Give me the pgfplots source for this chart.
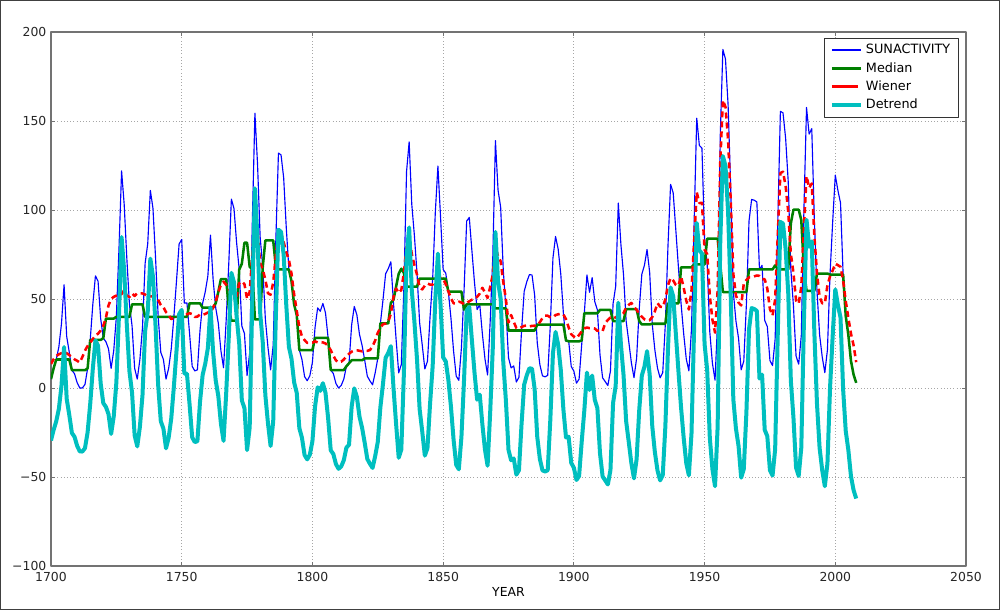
\documentclass[border=0pt]{standalone}
\usepackage{fontspec}
\setmainfont{DejaVu Sans}
\usepackage{pgfplots}
\usepackage{pgfplotstable}
\pgfplotsset{compat=1.18}

\definecolor{mplblue}{rgb}{0,0,1}
\definecolor{mplgreen}{rgb}{0,0.5,0}
\definecolor{mplred}{rgb}{1,0,0}
\definecolor{mplcyan}{rgb}{0,0.75,0.75}
\definecolor{framegray}{gray}{0.45}

% yearly sunspot numbers, 11-point median, 11-point Wiener, linear detrend
\pgfplotstableread{
year sun med wie det
1700 5 5 13.5 -29.5
1701 11 11 16.2 -23.6
1702 16 16 18.0 -18.7
1703 23 16 18.9 -11.8
1704 36 16 19.6 1.1
1705 58 16 19.9 23.0
1706 29 16 19.5 -6.1
1707 20 16 18.5 -15.2
1708 10 10 17.2 -25.3
1709 8 10 16.1 -27.4
1710 3 10 15.3 -32.5
1711 0 10 14.3 -35.6
1712 0 10 17.4 -35.7
1713 2 10 21.0 -33.8
1714 11 11 23.6 -24.9
1715 27 27 25.5 -9.0
1716 47 27 27.5 10.9
1717 63 27 29.5 26.8
1718 60 27 30.5 23.7
1719 39 27 32.3 2.6
1720 28 28 34.9 -8.5
1721 26 39 39.5 -10.6
1722 22 39 46.4 -14.7
1723 11 39 50.0 -25.8
1724 21 39 51.2 -15.9
1725 40 40 51.9 3.0
1726 78 40 52.5 40.9
1727 122 40 52.7 84.8
1728 103 40 55.0 65.7
1729 73 40 51.9 35.6
1730 47 40 51.1 9.5
1731 35 47 53.1 -2.6
1732 11 47 51.7 -26.7
1733 5 47 53.3 -32.8
1734 16 47 53.1 -21.9
1735 34 47 53.1 -4.0
1736 70 40 52.5 31.9
1737 81 40 51.4 42.8
1738 111 40 51.5 72.7
1739 101 40 51.5 62.6
1740 73 40 51.4 34.5
1741 40 40 49.5 1.4
1742 20 40 46.6 -18.7
1743 16 40 45.4 -22.8
1744 5 40 42.6 -33.9
1745 11 40 41.0 -28.0
1746 22 40 38.7 -17.1
1747 40 40 39.4 0.8
1748 60 40 40.4 20.7
1749 80.9 40 40.1 41.5
1750 83.4 40 40.5 43.9
1751 47.7 40 40.4 8.1
1752 47.8 40 41.4 8.1
1753 30.7 47.6 42.0 -9.1
1754 12.2 47.6 41.5 -27.7
1755 9.6 47.6 39.9 -30.4
1756 10.2 47.6 40.1 -29.9
1757 32.4 47.6 41.3 -7.8
1758 47.6 45.1 41.1 7.3
1759 54.0 45.1 41.6 13.6
1760 62.9 45.1 42.4 22.4
1761 85.9 45.1 42.5 45.3
1762 61.2 45.1 45.1 20.5
1763 45.1 47.6 48.5 4.3
1764 36.4 54.0 53.8 -4.5
1765 20.9 61.2 58.0 -20.1
1766 11.4 61.2 59.7 -29.7
1767 37.8 61.2 58.0 -3.4
1768 69.8 45.1 55.6 28.5
1769 106.1 37.8 54.2 64.7
1770 100.8 37.8 51.6 59.4
1771 81.6 37.8 51.5 40.1
1772 66.5 66.5 58.9 24.9
1773 34.8 69.8 59.9 -7.0
1774 30.6 81.6 58.3 -11.3
1775 7.0 81.6 50.1 -34.9
1776 19.8 68.1 54.0 -22.2
1777 92.5 66.5 74.7 50.4
1778 154.4 38.5 97.4 112.2
1779 125.9 38.5 88.2 83.6
1780 84.8 38.5 70.3 42.4
1781 68.1 68.1 66.7 25.6
1782 38.5 82.9 60.8 -4.1
1783 22.8 82.9 53.2 -19.9
1784 10.2 82.9 52.4 -32.6
1785 24.1 82.9 59.2 -18.8
1786 82.9 68.1 74.5 39.9
1787 132.0 66.6 87.8 88.9
1788 130.9 66.6 86.9 87.7
1789 118.1 66.6 82.0 74.8
1790 89.9 66.6 76.2 46.5
1791 66.6 66.6 72.0 23.1
1792 60.0 60.0 64.2 16.4
1793 46.9 46.9 52.6 3.2
1794 41.0 41.0 43.4 -2.8
1795 21.3 21.3 34.0 -22.6
1796 16.0 21.3 28.9 -28.0
1797 6.4 21.3 26.9 -37.7
1798 4.1 21.3 25.4 -40.1
1799 6.8 21.3 25.4 -37.5
1800 14.5 21.3 25.5 -29.9
1801 34.0 28.1 26.2 -10.5
1802 45.0 28.1 25.6 0.4
1803 43.1 28.1 25.8 -1.6
1804 47.5 28.1 25.6 2.7
1805 42.2 28.1 25.0 -2.7
1806 28.1 28.1 23.8 -16.9
1807 10.1 10.1 21.2 -35.0
1808 8.1 10.1 18.2 -37.1
1809 2.5 10.1 15.5 -42.8
1810 0.0 10.1 14.4 -45.4
1811 1.4 10.1 14.8 -44.1
1812 5.0 10.1 16.0 -40.6
1813 12.2 12.2 17.8 -33.5
1814 13.9 13.9 19.2 -31.9
1815 35.4 15.6 20.4 -10.5
1816 45.8 15.6 21.0 -0.2
1817 41.1 15.6 21.2 -5.0
1818 30.1 15.6 20.9 -16.1
1819 23.9 15.6 20.6 -22.4
1820 15.6 16.6 20.9 -30.8
1821 6.6 16.6 20.9 -39.9
1822 4.0 16.6 21.3 -42.6
1823 1.8 16.6 23.4 -44.9
1824 8.5 16.6 26.7 -38.3
1825 16.6 16.6 31.0 -30.3
1826 36.3 36.3 33.9 -10.7
1827 49.6 36.3 35.8 2.5
1828 64.2 36.3 36.2 17.0
1829 67.0 36.3 37.3 19.7
1830 70.9 47.8 41.7 23.5
1831 47.8 49.6 51.2 0.3
1832 27.5 56.9 55.9 -20.1
1833 8.5 64.2 53.4 -39.2
1834 13.2 67.0 55.1 -34.6
1835 56.9 64.6 64.8 9.0
1836 121.5 56.9 78.9 73.5
1837 138.3 56.9 85.2 90.2
1838 103.2 56.9 75.4 55.0
1839 85.7 56.9 69.1 37.4
1840 64.6 56.9 63.7 16.2
1841 36.7 61.5 56.6 -11.8
1842 24.2 61.5 55.4 -24.4
1843 10.7 61.5 57.5 -38.0
1844 15.0 61.5 58.7 -33.8
1845 40.1 61.5 58.1 -8.8
1846 61.5 61.5 58.1 12.5
1847 98.5 61.5 59.7 49.4
1848 124.7 61.5 61.0 75.5
1849 96.3 61.5 61.9 47.0
1850 66.6 61.5 61.2 17.2
1851 64.5 61.5 58.3 15.0
1852 54.1 54.1 54.3 4.5
1853 39.0 54.1 50.4 -10.7
1854 20.6 54.1 47.6 -29.2
1855 6.7 54.1 47.5 -43.2
1856 4.3 54.1 48.5 -45.7
1857 22.7 54.1 48.0 -27.4
1858 54.8 44.0 47.1 4.7
1859 93.8 47.0 47.8 43.6
1860 95.8 47.0 48.7 45.5
1861 77.2 47.0 49.6 26.8
1862 59.1 47.0 49.9 8.6
1863 44.0 47.0 51.2 -6.6
1864 47.0 47.0 53.0 -3.7
1865 30.5 47.0 56.3 -20.3
1866 16.3 47.0 53.6 -34.6
1867 7.3 47.0 50.6 -43.7
1868 37.6 47.0 56.8 -13.5
1869 74.0 47.0 63.8 22.8
1870 139.0 44.7 79.7 87.7
1871 111.2 44.7 73.9 59.8
1872 101.6 44.7 71.2 50.1
1873 66.2 44.7 59.6 14.6
1874 44.7 44.7 49.9 -7.0
1875 17.0 32.3 36.8 -34.8
1876 11.3 32.3 41.0 -40.6
1877 12.4 32.3 37.2 -39.6
1878 3.4 32.3 33.7 -48.7
1879 6.0 32.3 33.5 -46.2
1880 32.3 32.3 34.2 -20.0
1881 54.3 32.3 34.9 1.9
1882 59.7 32.3 35.1 7.2
1883 63.7 32.3 34.6 11.1
1884 63.5 32.3 34.9 10.8
1885 52.2 32.3 35.0 -0.6
1886 25.4 35.6 35.2 -27.5
1887 13.1 35.6 37.0 -39.9
1888 6.8 35.6 39.3 -46.3
1889 6.3 35.6 40.6 -46.9
1890 7.1 35.6 40.6 -46.2
1891 35.6 35.6 39.7 -17.8
1892 73.0 35.6 39.7 19.5
1893 85.1 35.6 41.0 31.5
1894 78.0 35.6 41.4 24.3
1895 64.0 35.6 41.7 10.2
1896 41.8 35.6 41.3 -12.1
1897 26.2 26.7 38.6 -27.8
1898 26.7 26.2 34.1 -27.4
1899 12.1 26.2 30.2 -42.1
1900 9.5 26.2 28.9 -44.8
1901 2.7 26.2 28.0 -51.7
1902 5.0 26.2 29.8 -49.5
1903 24.4 26.7 31.8 -30.2
1904 42.0 42.0 33.4 -12.7
1905 63.5 42.0 34.0 8.7
1906 53.8 42.0 33.6 -1.1
1907 62.0 42.0 33.7 7.0
1908 48.5 42.0 33.4 -6.6
1909 43.9 42.0 32.1 -11.3
1910 18.6 43.9 32.5 -36.7
1911 5.7 43.9 32.0 -49.7
1912 3.6 43.9 36.5 -51.9
1913 1.4 43.9 38.2 -54.2
1914 9.6 43.9 39.6 -46.1
1915 47.4 37.6 39.0 -8.4
1916 57.1 37.6 39.7 1.2
1917 103.9 37.6 40.5 47.9
1918 80.6 37.6 40.7 24.5
1919 63.6 37.6 42.1 7.4
1920 37.6 44.3 45.2 -18.7
1921 26.1 44.3 46.7 -30.3
1922 14.2 44.3 47.8 -42.3
1923 5.8 44.3 45.4 -50.8
1924 16.7 44.3 44.0 -40.0
1925 44.3 37.6 41.5 -12.5
1926 63.9 35.7 40.0 7.0
1927 69.0 35.7 38.6 12.0
1928 77.8 35.7 37.8 20.7
1929 64.9 35.7 38.1 7.7
1930 35.7 36.1 39.9 -21.6
1931 21.2 36.1 43.1 -36.2
1932 11.1 36.1 47.7 -46.4
1933 5.7 36.1 45.7 -51.9
1934 8.7 36.1 45.4 -49.0
1935 36.1 36.1 49.9 -21.7
1936 79.7 47.5 57.6 21.9
1937 114.4 47.5 61.8 56.5
1938 109.6 47.5 60.4 51.6
1939 88.8 47.5 57.9 30.7
1940 67.8 47.5 57.6 9.6
1941 47.5 67.8 62.7 -10.9
1942 30.6 67.8 56.4 -27.9
1943 16.3 67.8 49.1 -42.3
1944 9.6 67.8 44.1 -49.1
1945 33.2 67.8 54.8 -25.5
1946 92.6 69.4 82.1 33.8
1947 151.6 69.4 110.0 92.7
1948 136.3 69.4 103.9 77.3
1949 134.7 69.4 104.0 75.6
1950 83.9 69.4 77.7 24.7
1951 69.4 83.9 75.2 10.1
1952 31.5 83.9 51.9 -27.9
1953 13.9 83.9 38.4 -45.6
1954 4.4 83.9 31.1 -55.2
1955 38.0 83.9 54.7 -21.7
1956 141.7 69.4 126.9 81.9
1957 190.2 53.9 161.7 130.3
1958 184.8 53.9 157.9 124.8
1959 159.0 53.9 139.4 98.9
1960 112.3 53.9 105.5 52.1
1961 53.9 53.9 64.0 -6.4
1962 37.6 53.9 52.0 -22.8
1963 27.9 53.9 47.9 -32.6
1964 10.2 53.9 46.4 -50.4
1965 15.1 53.9 58.6 -45.6
1966 47.0 53.9 60.7 -13.8
1967 93.8 66.6 62.1 32.9
1968 105.9 66.6 62.1 44.9
1969 105.5 66.6 62.7 44.4
1970 104.5 66.6 63.2 43.3
1971 66.6 66.6 63.0 5.3
1972 68.9 66.6 61.2 7.5
1973 38.0 66.6 61.1 -23.5
1974 34.5 66.6 55.8 -27.1
1975 15.5 66.6 44.3 -46.2
1976 12.6 66.6 40.7 -49.2
1977 27.5 68.9 49.7 -34.4
1978 92.5 66.6 85.9 30.5
1979 155.4 66.6 120.8 93.3
1980 154.6 66.6 121.5 92.4
1981 140.4 66.6 113.5 78.1
1982 115.9 66.6 99.0 53.5
1983 66.6 92.5 75.4 4.1
1984 45.9 100.2 64.6 -16.7
1985 17.9 100.2 49.1 -44.8
1986 13.4 100.2 47.4 -49.4
1987 29.4 94.3 56.8 -33.5
1988 100.2 66.6 89.5 37.2
1989 157.6 54.6 119.1 94.5
1990 142.6 54.6 112.4 79.4
1991 145.7 54.6 114.9 82.4
1992 94.3 54.6 85.1 30.9
1993 54.6 64.3 64.5 -8.9
1994 29.9 64.3 51.0 -33.7
1995 17.5 64.3 47.6 -46.2
1996 8.6 64.3 47.5 -55.2
1997 21.5 64.3 57.7 -42.4
1998 64.3 63.7 62.8 0.3
1999 93.3 63.7 66.0 29.2
2000 119.6 63.7 69.9 55.4
2001 111.0 63.7 69.0 46.7
2002 104.0 63.7 68.1 39.6
2003 63.7 63.7 60.3 -0.8
2004 40.4 40.4 48.8 -24.2
2005 29.8 29.8 39.4 -34.9
2006 15.2 15.2 30.5 -49.6
2007 7.5 7.5 24.0 -57.4
2008 2.9 2.9 14.5 -62.1
}\sunspots

\begin{document}
\begin{tikzpicture}
\begin{axis}[
    scale only axis,
    width=686.25pt, height=400.5pt,
    xmin=1700, xmax=2050, ymin=-100, ymax=200,
    xtick={1700,1750,1800,1850,1900,1950,2000,2050},
    xticklabels={1700,1750,1800,1850,1900,1950,2000,2050},
    ytick={-100,-50,0,50,100,150,200},
    yticklabels={−100,−50,0,50,100,150,200},
    tick label style={font=\fontsize{9.3}{11}\selectfont, black!85},
    xticklabel style={yshift=-1pt},
    tick align=inside,
    major tick length=3pt,
    tick style={framegray, line width=0.6pt},
    axis line style={framegray, line width=0.9pt},
    grid=major,
    major grid style={gray!70, dotted, line width=0.6pt},
    xlabel={YEAR},
    xlabel style={at={(axis description cs:0.5,0)}, anchor=center, yshift=-19.5pt,
                  font=\fontsize{9.3}{11}\selectfont},
    legend style={at={(0.992,0.989)}, anchor=north east, draw=black!80,
                  line width=0.6pt, fill=white,
                  font=\fontsize{9.6}{11.5}\selectfont,
                  inner xsep=4pt, inner ysep=2.5pt, row sep=1pt},
    legend cell align=left,
    legend image code/.code={\path (0pt,0pt) -- (22pt,0pt);
                             \draw[#1] (3pt,0pt) -- (17pt,0pt);},
    line join=round,
]
\addplot[mplblue, line width=0.85pt] table[x=year, y=sun] {\sunspots};
\addplot[mplgreen, line width=1.9pt] table[x=year, y=med] {\sunspots};
\addplot[mplred, line width=1.9pt, dash pattern=on 4.5pt off 3pt] table[x=year, y=wie] {\sunspots};
\addplot[mplcyan, line width=3pt] table[x=year, y=det] {\sunspots};
\legend{SUNACTIVITY, Median, Wiener, Detrend}
\end{axis}
% outer frame of the figure
\draw[black!75, line width=1pt] (-37.75pt,-32.5pt) rectangle (711.25pt,424pt);
\end{tikzpicture}
\end{document}
